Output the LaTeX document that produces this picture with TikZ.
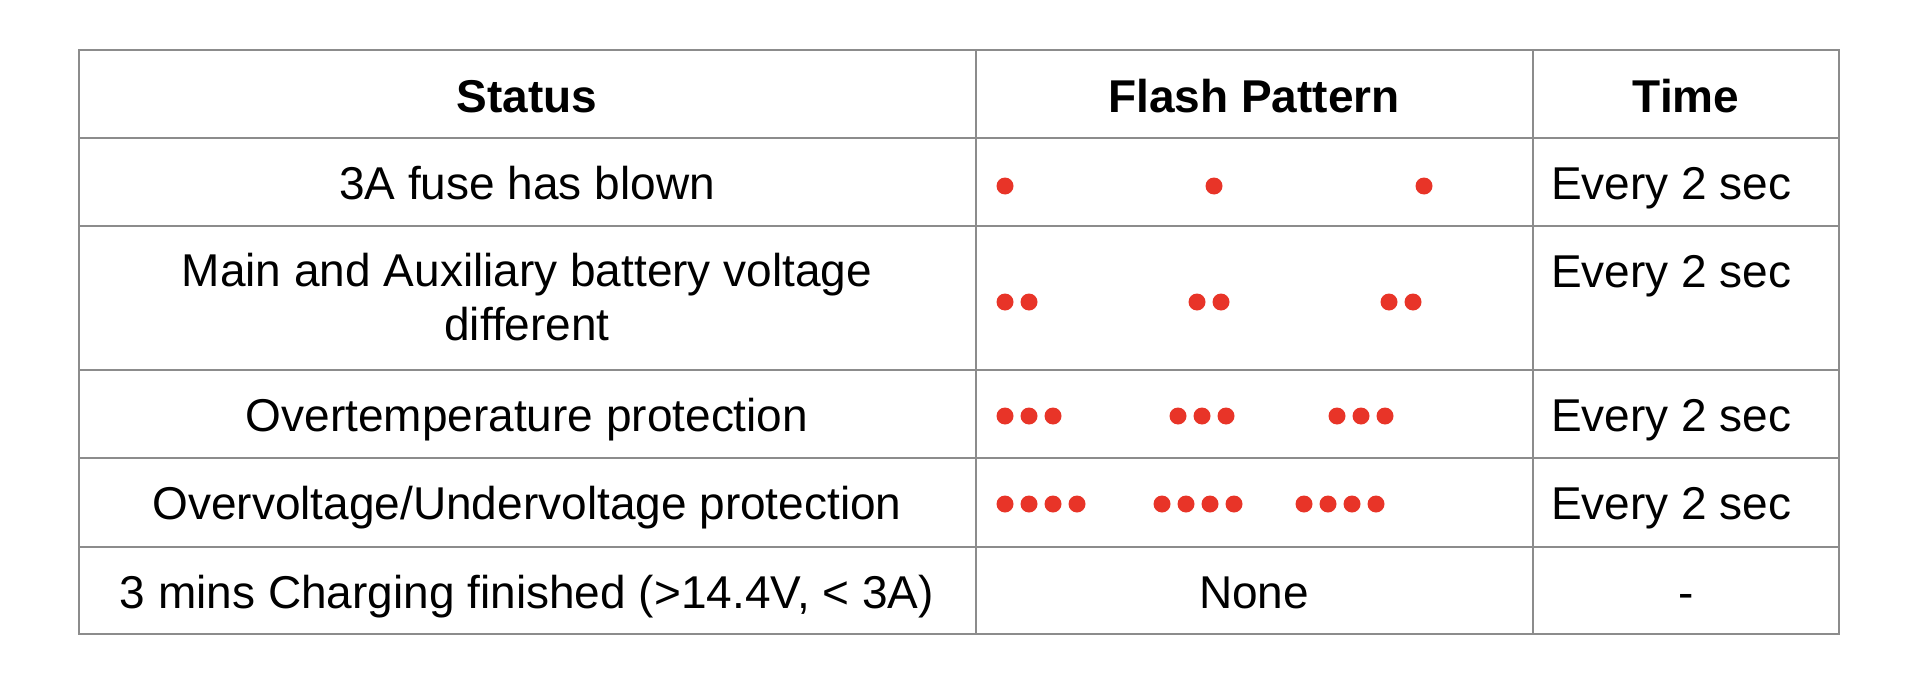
\documentclass[tikz,border=0pt]{standalone}
\usepackage{fontspec}
\setmainfont{Liberation Sans}
\usetikzlibrary{positioning}

\definecolor{flashred}{RGB}{232,52,40}
\definecolor{gridgrey}{RGB}{140,140,140}

\tikzset{
  cell text/.style={font=\fontsize{46}{54}\selectfont, inner sep=0pt, anchor=base},
  head text/.style={cell text, font=\fontsize{46}{54}\selectfont\bfseries},
  time text/.style={cell text, anchor=base west},
  flash dot/.style={circle, fill=flashred, inner sep=0pt, minimum size=17pt},
  grid line/.style={gridgrey, line width=1.3pt},
}

\begin{document}
\begin{tikzpicture}[x=1pt, y=-1pt]
        \useasboundingbox (0,0) rectangle (1915,688);

        % table frame
        \draw [grid line] (79,50) rectangle (1839,634);
        \foreach \y in {138,226,370,458,547}
        \draw [grid line] (79,\y) -- (1839,\y);
        \foreach \x in {976,1533}
        \draw [grid line] (\x,50) -- (\x,634);

        \foreach \l/\x [count=\i] in {Status/527, Flash Pattern/1254, Time/1686}
        \node [head text] (head-\i) at (\x,112) {\l};

        \foreach \i/\l/\y in {1/3A fuse has blown/199, 3/Overtemperature protection/431, 4/{Overvoltage/Undervoltage protection}/519, 5/{3 mins Charging finished (>14.4V, < 3A)}/608}
        \node [cell text] (status-\i) at (527,\y) {\l};
        \node [cell text, anchor=center, align=center] (status-2) at (527,297)
        {Main and Auxiliary battery voltage\\different};

        \foreach \y [count=\i] in {199,287,431,519}
        \node [time text] (time-\i) at (1551,\y) {Every 2 sec};
        \node [cell text] (time-5) at (1686,608) {-};

        % flash pattern: dots per group / row / group starts
        \foreach \r/\ya/\xa/\xb/\xc in {1/186/1005/1214/1424, 2/302/1005/1197/1389, 3/416/1005/1178/1337, 4/504/1005/1162/1304}
        \foreach \xg [count=\g] in {\xa,\xb,\xc}
        \foreach \k in {1,...,\r}
        \node [flash dot] (dot-\r-\g-\k) at ({\xg+24*(\k-1)},\ya) {};

        \node [cell text] (flash-5) at (1254,608) {None};

      \end{tikzpicture}
\end{document}
